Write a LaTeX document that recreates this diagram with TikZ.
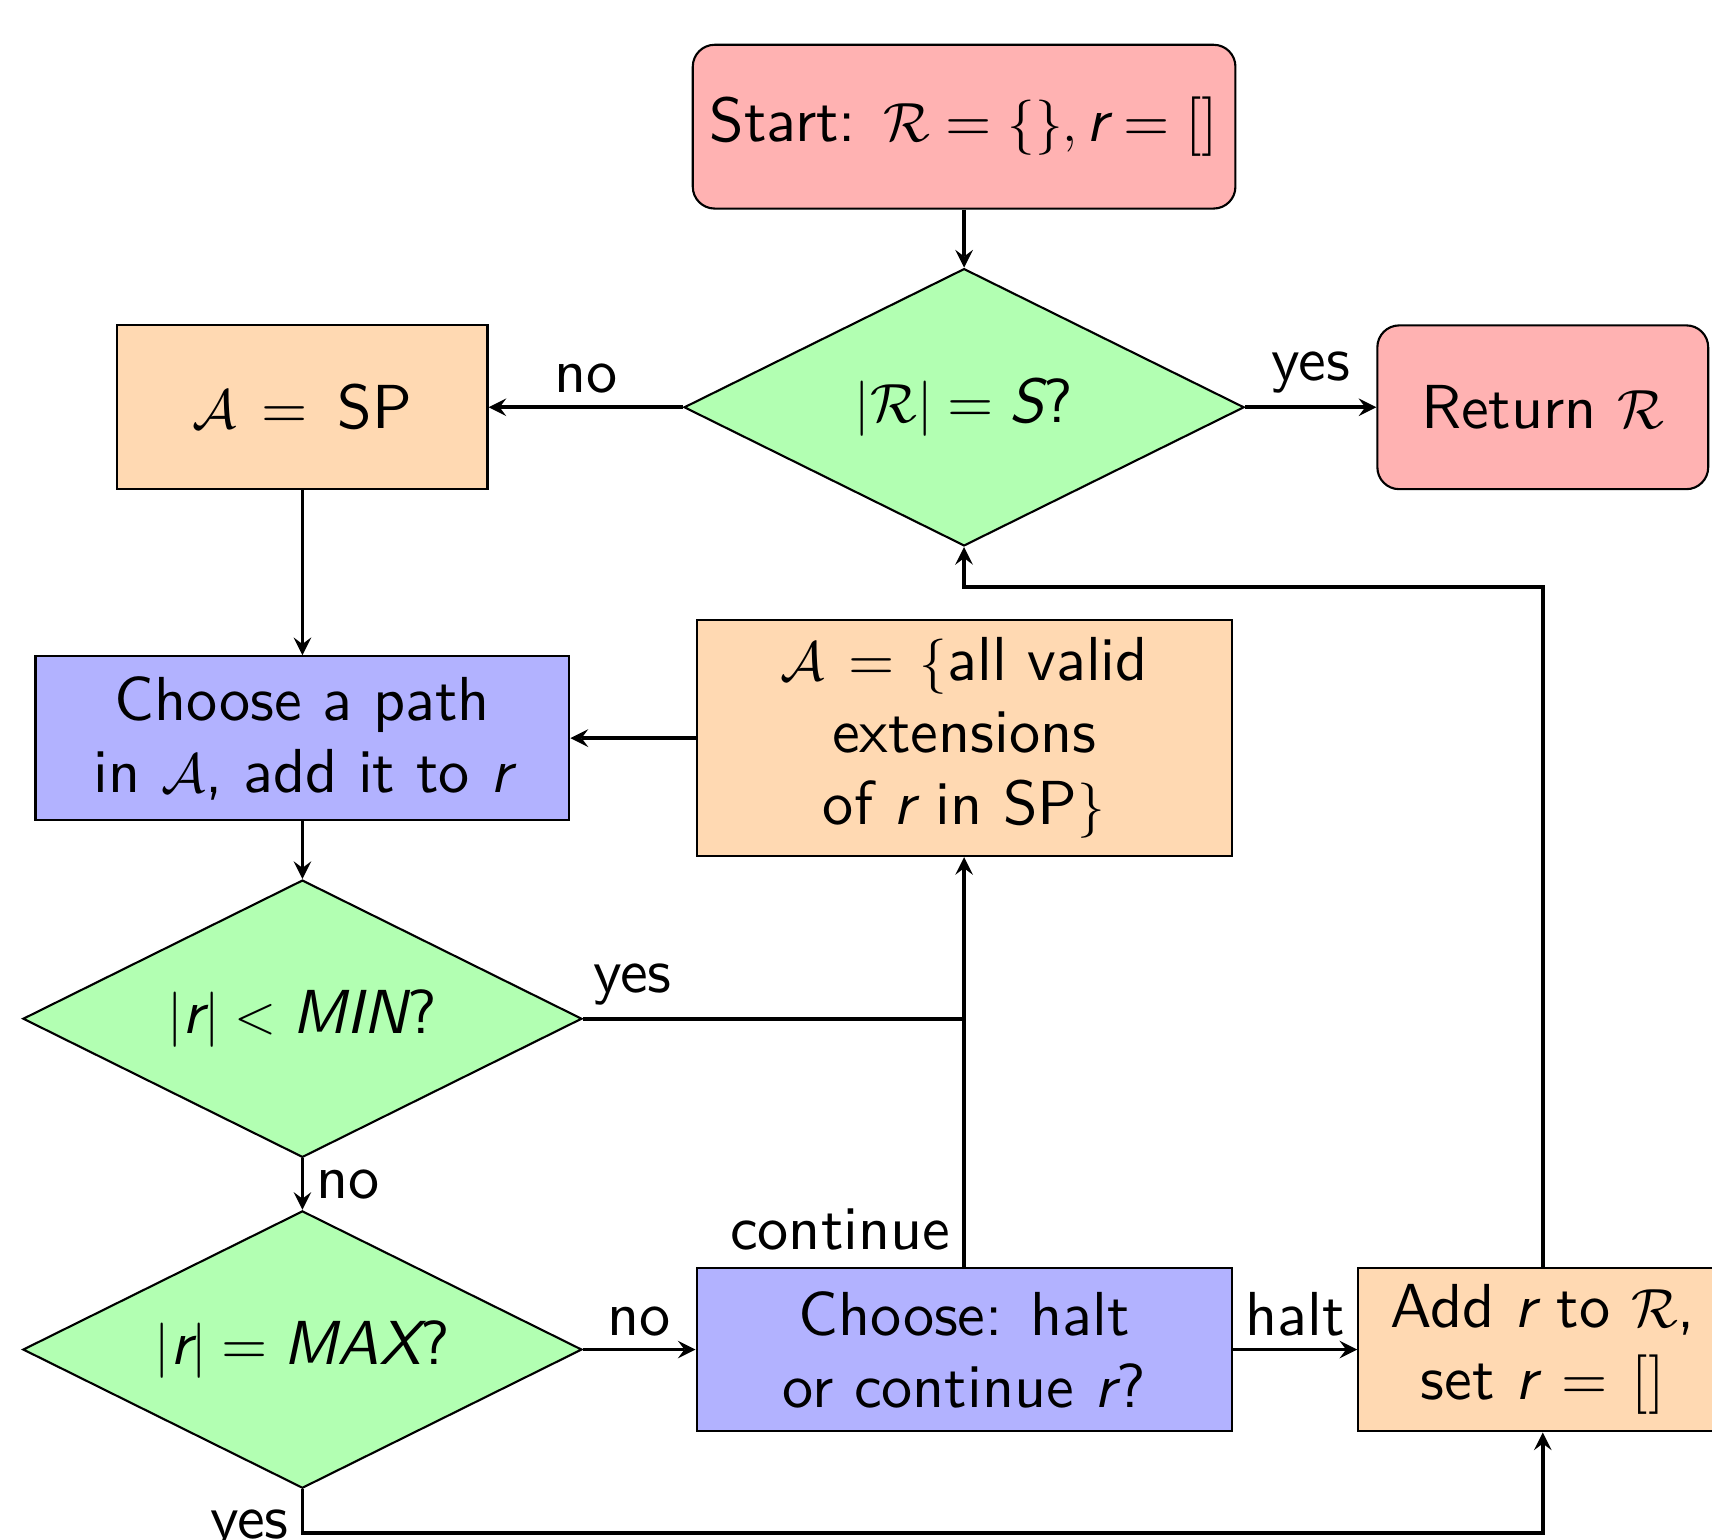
\documentclass[tikz,border=0pt]{standalone}
\usepackage{fontspec}
\setsansfont{lmsans10-regular}[Extension=.otf,Scale=1.045,ItalicFont=lmsans10-oblique,BoldFont=lmsans10-bold]
\usetikzlibrary{shapes.geometric}

% keep the 10pt design of the maths roman at large sizes
\DeclareFontShape{OT1}{cmr}{m}{n}{<-> cmr10}{}

% sans italic letters for the variables
\newcommand{\mv}[1]{\textit{#1}}

\begin{document}
\begin{tikzpicture}[
    font=\sffamily\fontsize{15.5}{18.8}\selectfont,
    every node/.style={line width=0.55pt},
    startstop/.style={rectangle,rounded corners=0.2cm,draw,fill=red!30,align=center,minimum height=1.5cm},
    process/.style={rectangle,draw,fill=orange!30,align=center,minimum height=1.5cm},
    choice/.style={rectangle,draw,fill=blue!30,align=center,minimum height=1.5cm},
    decision/.style={diamond,aspect=2,draw,fill=green!30,inner sep=0pt,minimum width=5.12cm,minimum height=2.54cm},
    arrow/.style={->,>=stealth,line width=1pt}]

    \useasboundingbox (0,0) rectangle (15.68,-14.10);

    \node[startstop,minimum width=4.97cm] (start) at (8.83,-1.16) {Start: $\mathcal{R} = \{\}, \mv{r} = []$};
    \node[decision,minimum width=5.13cm] (full) at (8.83,-3.73) {$|\mathcal{R}| = \mv{S}$?};
    \node[process,minimum width=3.39cm] (sp) at (2.77,-3.73) {$\mathcal{A}\,=\,$ SP};
    \node[startstop,minimum width=3.03cm] (ret) at (14.13,-3.73) {Return $\mathcal{R}$};
    \node[choice,minimum width=4.89cm] (pick) at (2.77,-6.76) {Choose a path\\ in $\mathcal{A}$, add it to $\mv{r}$};
    \node[process,minimum width=4.9cm,minimum height=2.16cm] (ext) at (8.83,-6.76) {$\mathcal{A}\,=\,\{$all valid\\ extensions\\ of $\mv{r}$ in SP$\}$};
    \node[decision] (min) at (2.77,-9.33) {$|\mv{r}| < \mv{MIN}$?};
    \node[decision] (max) at (2.77,-12.36) {$|\mv{r}| = \mv{MAX}$?};
    \node[choice,minimum width=4.9cm] (halt) at (8.83,-12.36) {Choose: halt\\ or continue $\mv{r}$?};
    \node[process,minimum width=3.38cm] (add) at (14.13,-12.36) {Add $\mv{r}$ to $\mathcal{R}$,\\ set $\mv{r}\,=\,[]$};

    \draw[arrow] (start) -- (full);
    \draw[arrow] (full.west) -- node[above] {no} (sp.east);
    \draw[arrow] (full.east) -- node[above] {yes} (ret.west);
    \draw[arrow] (sp) -- (pick);
    \draw[arrow] (ext) -- (pick);
    \draw[arrow] (pick) -- (min);
    \draw[line width=1pt] (min.east) -- node[above,pos=0.13] {yes} (min.east -| ext.south);
    \draw[arrow] (min) -- node[right] {no} (max);
    \draw[arrow] (max.east) -- node[above] {no} (halt.west);
    \draw[arrow] (halt) -- node[left,pos=0.09] {continue} (ext);
    \draw[arrow] (halt) -- node[above] {halt} (add);
    \draw[arrow] (max.south) -- node[left,pos=0.95] {yes} ++(0,-0.4) -| (add.south);
    \draw[arrow] (add.north) |- ([yshift=-0.37cm]full.south) -- (full.south);
\end{tikzpicture}
\end{document}
